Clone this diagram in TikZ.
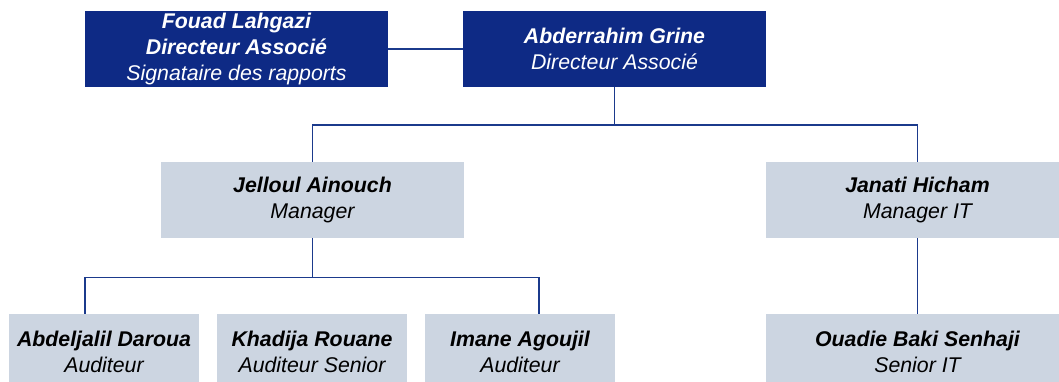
\documentclass[tikz,border=0pt]{standalone}
\usepackage{fontspec}
\setmainfont{Liberation Sans}
\definecolor{navy}{HTML}{0E2A85}
\definecolor{lineblue}{HTML}{1B3A8C}
\definecolor{paleblue}{HTML}{CCD5E1}
\begin{document}
\begin{tikzpicture}[x=1pt,y=-1pt,
  box/.style={rectangle, inner sep=0pt, align=center,
    font=\fontsize{21.3}{26}\selectfont\itshape},
  darkbox/.style={box, fill=navy, text=white, minimum width=303, minimum height=76},
  lightbox/.style={box, fill=paleblue, text=black, minimum width=303, minimum height=76},
  smallbox/.style={box, fill=paleblue, text=black, minimum width=190, minimum height=76},
  conn/.style={draw=lineblue, line width=1.8pt}]
\useasboundingbox (0,0) rectangle (1059,381);
\begin{scope}
\clip (0,0) rectangle (1059,381);
\node[darkbox] (fouad) at (236.5,49) {\textbf{Fouad Lahgazi}\\\textbf{Directeur Associé}\\Signataire des rapports};
\node[darkbox] (grine) at (614.5,49) {\textbf{Abderrahim Grine}\\Directeur Associé};
\node[lightbox] (jelloul) at (312.5,200) {\textbf{Jelloul Ainouch}\\Manager};
\node[lightbox] (janati) at (917.5,200) {\textbf{Janati Hicham}\\Manager IT};
\node[smallbox] (abdel) at (104,352) {\textbf{Abdeljalil Daroua}\\Auditeur};
\node[smallbox] (khadija) at (312,352) {\textbf{Khadija Rouane}\\Auditeur Senior};
\node[smallbox] (imane) at (520,352) {\textbf{Imane Agoujil}\\Auditeur};
\node[lightbox] (ouadie) at (917.5,352) {\textbf{Ouadie Baki Senhaji}\\Senior IT};

\coordinate (hubA) at (614.5,125);
\coordinate (hubB) at (312.5,277.5);
\coordinate (legA) at (85,277.5);
\coordinate (legC) at (539,277.5);

\draw[conn] (fouad.east) -- (grine.west);
\draw[conn] (grine.south) -- (hubA);
\draw[conn] (jelloul.north) |- (hubA) -| (janati.north);
\draw[conn] (jelloul.south) -- (hubB);
\draw[conn] (legA |- abdel.north) -- (legA) -- (legC) -- (legC |- imane.north);
\draw[conn] (janati.south) -- (ouadie.north);
\end{scope}
\end{tikzpicture}
\end{document}
